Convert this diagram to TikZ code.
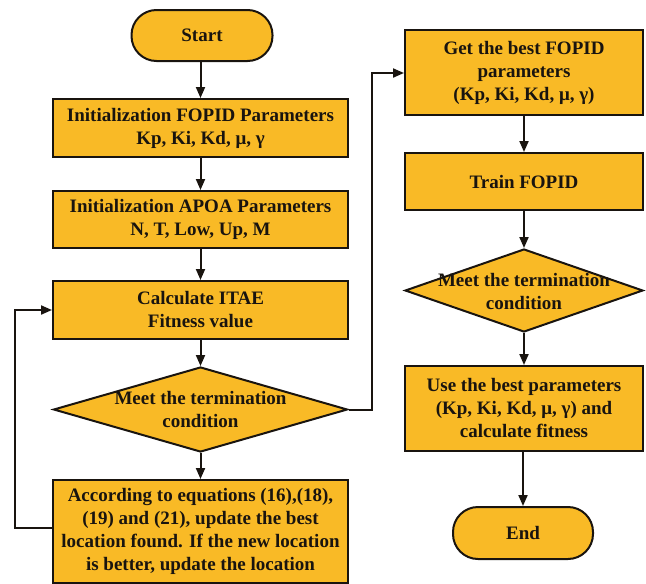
\documentclass[tikz,border=0pt]{standalone}
\usepackage{fontspec}
\setmainfont{Liberation Serif}
\usetikzlibrary{shapes.geometric,arrows.meta}
\definecolor{boxfill}{RGB}{249,186,38}
\definecolor{edge}{RGB}{25,20,15}
\tikzset{
  base/.style={draw=edge, fill=boxfill, line width=2pt, align=center,
    font=\fontsize{19}{23}\selectfont\bfseries, text=edge, inner sep=2pt},
  procbox/.style={base, rectangle, minimum width=295pt},
  rprocbox/.style={base, rectangle, minimum width=238pt},
  termbox/.style={base, rectangle, rounded corners=25pt, minimum width=141pt, minimum height=51pt},
  decbox/.style={base, diamond, inner sep=0pt},
  flow/.style={draw=edge, line width=2pt, -{Triangle[length=11pt,width=9pt]}},
}
\newcommand{\dtext}[2]{\smash{\makebox[0pt]{\raisebox{#1}{\begin{tabular}{@{}c@{}}#2\end{tabular}}}}}
\begin{document}
\begin{tikzpicture}[x=1pt,y=-1pt]
\useasboundingbox (0,0) rectangle (646,584);
% left column
\node[termbox] (start) at (202,35.5) {Start};
\node[procbox, minimum height=58pt] (fopid) at (200.5,128) {Initialization FOPID Parameters\\Kp, Ki, Kd, μ, γ};
\node[procbox, minimum height=57pt] (apoa) at (200.5,219.5) {Initialization APOA Parameters\\N, T, Low, Up, M};
\node[procbox, minimum height=58pt] (itae) at (200.5,310) {Calculate ITAE\\Fitness value};
\node[decbox, minimum width=294pt, minimum height=85pt] (cond1) at (200.5,409.5) {\dtext{-6pt}{Meet the termination\\condition}};
\node[procbox, minimum height=103pt] (update) at (200.5,531.5) {\raisebox{-3pt}{\begin{tabular}{@{}c@{}}According to equations (16),(18),\\(19) and (21), update the best\\location found. If the new location\\is better, update the location\end{tabular}}};
% right column
\node[rprocbox, minimum height=85pt] (best) at (524,72.5) {Get the best FOPID\\parameters\\(Kp, Ki, Kd, μ, γ)};
\node[rprocbox, minimum height=57pt] (train) at (524,181.5) {Train FOPID};
\node[decbox, minimum width=238pt, minimum height=83pt] (cond2) at (524,290.5) {\dtext{-7pt}{Meet the termination\\condition}};
\node[rprocbox, minimum height=85pt] (use) at (524,408.5) {Use the best parameters\\(Kp, Ki, Kd, μ, γ) and\\calculate fitness};
\node[termbox, minimum width=140pt, minimum height=52pt] (end) at (523,533) {End};
% connectors
\coordinate (lb) at (15,528);
\coordinate (lt) at (15,310);
\coordinate (rb) at (372,409.5);
\coordinate (rt) at (372,73);
\draw[flow] (start.south -| fopid.north) -- (fopid.north);
\draw[flow] (fopid) -- (apoa);
\draw[flow] (apoa) -- (itae);
\draw[flow] (itae) -- (cond1);
\draw[flow] (cond1) -- (update);
\draw[flow] (update.west |- lb) -- (lb) -- (lt) -- (itae.west);
\draw[flow] (cond1.east) -- (rb) -- (rt) -- (best.west |- rt);
\draw[flow] (best) -- (train);
\draw[flow] (train) -- (cond2);
\draw[flow] (cond2) -- (use);
\draw[flow] (use.south -| end.north) -- (end.north);
\end{tikzpicture}
\end{document}
